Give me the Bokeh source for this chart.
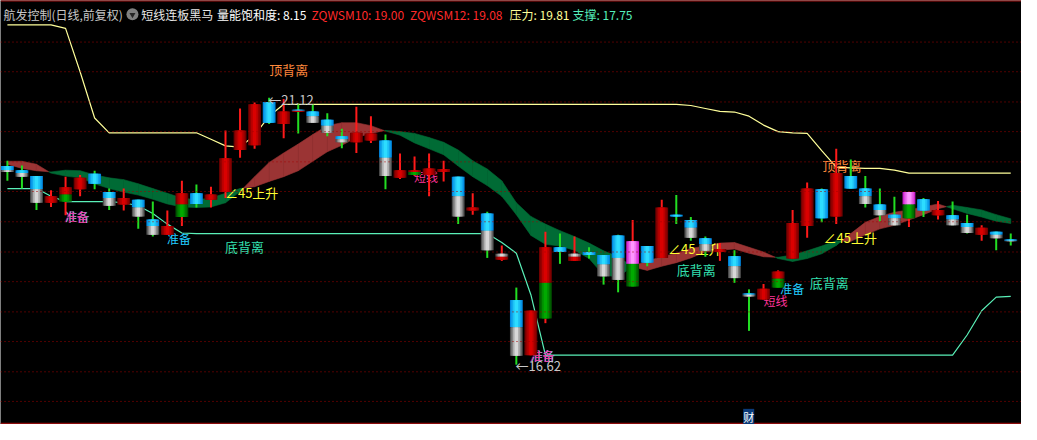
from bokeh.plotting import figure
from bokeh.models import Range1d, Span, Label
from bokeh.core.properties import value
from bokeh.embed import file_html
from bokeh.resources import INLINE

# ---------------- data ----------------
kind = ["BG", "BG", "BG", "R", "RG", "R", "B", "BG", "R", "BG",
        "BG", "R", "RG", "B", "R", "R", "R", "R", "B", "R",
        "BR", "BG", "BG", "BG", "R", "R", "BG", "R", "RG", "R",
        "R", "BG", "R", "BG", "GR", "BG", "R", "RG", "B", "GR",
        "B", "BG", "BG", "MG", "B", "R", "B", "BG", "BG", "R",
        "BG", "BG", "R", "RG", "R", "R", "B", "R", "B", "BG",
        "BG", "BG", "MG", "B", "R", "BG", "BG", "R", "BG", "BG"]

body_top = [19.97, 19.90, 19.80, 19.46, 19.61, 19.77, 19.84, 19.53, 19.43, 19.40,
            19.07, 18.96, 19.51, 19.51, 19.49, 20.10, 20.57, 21.01, 21.05, 20.89,
            20.92, 20.89, 20.75, 20.47, 20.53, 20.52, 20.40, 19.90, 19.90, 19.93,
            19.92, 19.79, 19.27, 19.17, 18.49, 17.71, 17.53, 18.60, 18.60, 18.49,
            18.52, 18.47, 18.80, 18.70, 18.62, 19.27, 19.15, 19.06, 18.75, 18.57,
            18.45, 17.82, 17.90, 18.19, 19.01, 19.59, 19.58, 19.85, 19.80, 19.59,
            19.32, 19.15, 19.53, 19.41, 19.23, 19.14, 19.01, 18.93, 18.86, 18.73]

body_split = [19.90, 19.85, 19.58, 19.35, 19.49, 19.58, 19.67, 19.43, 19.32, 19.27,
              18.96, 18.81, 19.32, 19.33, 19.40, 19.53, 20.24, 20.32, 20.70, 20.68,
              20.90, 20.81, 20.65, 20.42, 20.37, 20.40, 20.11, 19.77, 19.87, 19.82,
              19.87, 19.46, 19.22, 18.88, 18.44, 17.25, 16.78, 18.00, 18.52, 18.44,
              18.47, 18.31, 18.42, 18.32, 18.34, 18.42, 19.12, 18.93, 18.65, 18.52,
              18.28, 17.80, 17.72, 18.07, 18.41, 18.96, 19.09, 19.12, 19.59, 19.46,
              19.23, 19.09, 19.32, 19.22, 19.14, 19.07, 18.94, 18.81, 18.81, 18.71]

body_bottom = [19.87, 19.79, 19.35, 19.35, 19.37, 19.58, 19.67, 19.30, 19.32, 19.12,
               18.81, 18.81, 19.11, 19.33, 19.40, 19.53, 20.24, 20.32, 20.70, 20.68,
               20.88, 20.70, 20.53, 20.37, 20.37, 20.40, 19.80, 19.77, 19.82, 19.82,
               19.87, 19.12, 19.22, 18.55, 18.39, 16.77, 16.78, 17.40, 18.52, 18.37,
               18.47, 18.11, 18.05, 17.94, 18.34, 18.42, 19.12, 18.76, 18.54, 18.52,
               18.08, 17.77, 17.72, 17.92, 18.41, 18.96, 19.09, 19.12, 19.59, 19.33,
               19.14, 18.97, 19.09, 19.22, 19.14, 18.97, 18.84, 18.81, 18.75, 18.70]

high = [20.06, 19.98, 19.80, 19.56, 19.79, 19.82, 19.89, 19.59, 19.59, 19.40,
        19.37, 19.22, 19.72, 19.66, 19.62, 20.57, 20.94, 21.04, 21.12, 21.10,
        21.02, 21.01, 20.86, 20.60, 20.97, 20.81, 20.50, 20.18, 20.13, 20.18,
        20.06, 19.79, 19.51, 19.20, 18.63, 17.92, 17.53, 18.86, 18.83, 18.78,
        18.60, 18.47, 18.81, 19.06, 18.62, 19.40, 19.48, 19.11, 18.78, 18.67,
        18.55, 17.89, 17.98, 18.21, 19.23, 19.69, 19.59, 20.26, 20.08, 19.80,
        19.59, 19.45, 19.53, 19.43, 19.38, 19.37, 19.15, 18.97, 18.86, 18.83]

low = [19.72, 19.59, 19.23, 19.28, 19.14, 19.46, 19.58, 19.23, 19.22, 18.91,
       18.78, 18.81, 18.96, 19.27, 19.27, 19.43, 20.11, 20.26, 20.68, 20.44,
       20.52, 20.70, 20.47, 20.27, 20.19, 20.36, 19.58, 19.75, 19.80, 19.46,
       19.71, 18.99, 19.15, 18.42, 18.37, 16.62, 16.78, 17.32, 18.32, 18.37,
       18.41, 17.97, 17.84, 17.94, 18.28, 18.42, 18.99, 18.71, 18.44, 18.37,
       18.00, 17.19, 17.72, 17.92, 18.41, 18.76, 19.02, 18.99, 19.59, 19.27,
       19.04, 18.97, 18.94, 19.11, 19.07, 18.97, 18.83, 18.71, 18.55, 18.63]

zqwsm10 = [20.05, 20.05, 20.00, 19.85, 19.80, 19.77, 19.67, 19.59, 19.53, 19.48,
           19.41, 19.33, 19.28, 19.27, 19.28, 19.35, 19.54, 19.79, 20.03, 20.19,
           20.34, 20.50, 20.65, 20.70, 20.70, 20.65, 20.56, 20.49, 20.36, 20.26,
           20.16, 19.97, 19.79, 19.64, 19.46, 19.15, 18.80, 18.65, 18.62, 18.55,
           18.41, 18.13, 18.10, 18.28, 18.37, 18.44, 18.50, 18.58, 18.62, 18.67,
           18.68, 18.60, 18.52, 18.41, 18.36, 18.41, 18.49, 18.63, 18.83, 19.02,
           19.12, 19.19, 19.23, 19.28, 19.33, 19.25, 19.17, 19.11, 19.04, 19.00]

zqwsm12 = [20.00, 19.93, 19.89, 19.87, 19.90, 19.89, 19.82, 19.77, 19.74, 19.67,
           19.59, 19.51, 19.43, 19.40, 19.43, 19.51, 19.59, 19.62, 19.71, 19.79,
           19.89, 20.05, 20.21, 20.32, 20.45, 20.52, 20.57, 20.55, 20.52, 20.45,
           20.37, 20.24, 20.06, 19.92, 19.72, 19.35, 19.12, 18.99, 18.88, 18.78,
           18.67, 18.54, 18.44, 18.27, 18.21, 18.28, 18.34, 18.42, 18.52, 18.55,
           18.57, 18.50, 18.44, 18.43, 18.47, 18.54, 18.62, 18.71, 18.70, 18.81,
           18.91, 18.97, 19.06, 19.15, 19.25, 19.31, 19.27, 19.23, 19.15, 19.08]

pressure = [22.35, 22.35, 22.35, 22.35, 22.29, 21.56, 20.78, 20.53, 20.53, 20.53,
            20.53, 20.53, 20.53, 20.53, 20.42, 20.31, 20.29, 20.49, 20.81, 21.01,
            21.01, 21.01, 21.01, 21.01, 21.01, 21.01, 21.01, 21.01, 21.01, 21.01,
            21.01, 21.01, 21.01, 21.01, 21.01, 21.01, 21.01, 21.01, 21.01, 21.01,
            21.01, 21.01, 21.01, 21.01, 21.01, 21.01, 21.01, 20.99, 20.94, 20.89,
            20.88, 20.81, 20.66, 20.55, 20.53, 20.52, 20.23, 19.95, 19.94, 19.93,
            19.93, 19.90, 19.85, 19.85, 19.85, 19.85, 19.85, 19.85, 19.85, 19.85]

support = [19.59, 19.59, 19.59, 19.46, 19.37, 19.37, 19.37, 19.37, 19.35, 19.30,
           19.17, 18.99, 18.84, 18.83, 18.83, 18.83, 18.83, 18.83, 18.83, 18.83,
           18.83, 18.83, 18.83, 18.83, 18.83, 18.83, 18.83, 18.83, 18.83, 18.83,
           18.83, 18.83, 18.83, 18.83, 18.68, 18.50, 17.80, 16.78, 16.78, 16.78,
           16.78, 16.78, 16.78, 16.78, 16.78, 16.78, 16.78, 16.78, 16.78, 16.78,
           16.78, 16.78, 16.78, 16.78, 16.78, 16.78, 16.78, 16.78, 16.78, 16.78,
           16.78, 16.78, 16.78, 16.78, 16.78, 16.78, 17.12, 17.53, 17.76, 17.77]

grid_levels = [22.06, 21.56, 21.05, 20.55, 20.04, 19.54, 19.03, 18.52, 18.02,
               17.51, 17.01, 16.50, 16.00]

header_items = [("航发控制(日线,前复权)", "#c8c8c8"), ("短线连板黑马", "#e8e8e8"),
                ("量能饱和度: 8.15", "#ffffff"), ("ZQWSM10: 19.00", "#ff2a2a"),
                ("ZQWSM12: 19.08", "#ff2a2a"), ("压力: 19.81", "#ffff99"),
                ("支撑: 17.75", "#55eebb")]

# ---------------- styles ----------------
FONT = "Noto Sans CJK SC"
n = len(kind)
xi = list(range(n))

SHADE = {"red": ((112, 0, 0), (218, 0, 0)),
         "blue": ((0, 135, 225), (45, 220, 255)),
         "gray": ((78, 78, 78), (215, 215, 215)),
         "green": ((0, 78, 0), (0, 170, 0)),
         "magenta": ((205, 30, 205), (255, 150, 255))}
KIND = {"R": ("red", "red"), "B": ("blue", "blue"), "BG": ("blue", "gray"),
        "RG": ("red", "green"), "MG": ("magenta", "green"),
        "GR": ("gray", "red"), "BR": ("blue", "red")}


def shade(name, t):
    e, c = SHADE[name]
    return "#%02x%02x%02x" % tuple(int(round(e[k] + (c[k] - e[k]) * t)) for k in range(3))


p = figure(width=1021, height=424,
           x_range=Range1d(-0.474, 69.74), y_range=Range1d(15.611, 22.761),
           x_axis_type=None, y_axis_type=None, toolbar_location=None,
           output_backend="svg", background_fill_color="black",
           border_fill_color="black", outline_line_color=None, min_border=0)

# grid
for g in grid_levels:
    p.add_layout(Span(location=g, dimension="width", line_color="#a00000",
                      line_dash="1 3", line_width=1))
p.add_layout(Span(location=22.755, dimension="width", line_color="#a01010", line_width=1.5))
p.add_layout(Span(location=15.628, dimension="width", line_color="#8c0c0c", line_width=1.5))

# band between ZQWSM10 and ZQWSM12
BAND_RED, BAND_GREEN = "#9b3434", "#006b35"
bx, by, bc = [], [], []
for i in range(n - 1):
    a0 = zqwsm10[i] - zqwsm12[i]
    a1 = zqwsm10[i + 1] - zqwsm12[i + 1]
    if a0 * a1 < 0:
        t = a0 / (a0 - a1)
        xc = i + t
        yc = zqwsm10[i] + t * (zqwsm10[i + 1] - zqwsm10[i])
        bx.append([i, xc, i]); by.append([zqwsm10[i], yc, zqwsm12[i]])
        bc.append(BAND_RED if a0 > 0 else BAND_GREEN)
        bx.append([xc, i + 1, i + 1]); by.append([yc, zqwsm10[i + 1], zqwsm12[i + 1]])
        bc.append(BAND_RED if a1 > 0 else BAND_GREEN)
    else:
        bx.append([i, i + 1, i + 1, i])
        by.append([zqwsm10[i], zqwsm10[i + 1], zqwsm12[i + 1], zqwsm12[i]])
        bc.append(BAND_RED if (a0 + a1) > 0 else BAND_GREEN)
p.patches(bx, by, fill_color=bc, line_color=bc, line_width=0.6)

# pressure / support lines
p.line(xi, pressure, line_color="#ffff9a", line_width=1.2)
p.line(xi, support, line_color="#5af0b8", line_width=1.2)


def texts(xs, ys, txt, color, size="12px", align="left"):
    p.text(x=xs, y=ys, text=txt, text_color=color, text_font=value(FONT),
           text_font_size=size, text_align=align, text_baseline="middle")


# labels under the candles
texts([18.01, 56.06], [21.59, 19.98], ["顶背离", "顶背离"], "#ff8a3d", "13px")
texts([14.96, 46.04, 55.18], [18.62, 18.23, 18.00], ["底背离"] * 3, "#33e0b0", "13px")
texts([14.96, 45.43, 56.13], [19.53, 18.58, 18.76], ["∠45上升"] * 3, "#ffff33", "13px")
texts([4.0, 36.02, 10.97, 53.15], [19.12, 16.78, 18.75, 17.90], ["准备"] * 4, "#22ccff")
texts([3.93, 35.95], [19.12, 16.78], ["准备"] * 2, "#ff3399")
texts([27.96, 52.0], [19.79, 17.71], ["短线", "短线"], "#ff3399")

# wicks
wick_col = ["#22dd22" if k[0] == "B" else "#ff1a1a" for k in kind]
p.segment(x0=xi, y0=high, x1=xi, y1=low, line_color=wick_col, line_width=2)

# bodies with a cylinder-like shading
layers = [(0.44, 0.0), (0.35, 0.35), (0.24, 0.7), (0.12, 1.0)]
for hw, t in layers:
    L, R, T, B, C = [], [], [], [], []
    for i in range(n):
        up, lo = KIND[kind[i]]
        if body_top[i] > body_split[i]:
            L.append(i - hw); R.append(i + hw); T.append(body_top[i]); B.append(body_split[i])
            C.append(shade(up, t))
        if body_split[i] > body_bottom[i]:
            L.append(i - hw); R.append(i + hw); T.append(body_split[i]); B.append(body_bottom[i])
            C.append(shade(lo, t))
    p.quad(left=L, right=R, top=T, bottom=B, fill_color=C, line_color=None)

# extreme markers
texts([17.94, 34.94], [21.09, 16.60], ["←21.12", "←16.62"], "#c8c8c8", "13px")

# "财" badge
p.add_layout(Label(x=50.98, y=15.74, text="财", text_color="white", text_font=FONT,
                   text_font_size="11px", text_align="center", text_baseline="middle",
                   background_fill_color="#0b3a78"))

# header
hx = [-0.27, 9.21, 14.42, 20.92, 27.69, 34.53, 38.86]
for (txt, col), x0 in zip(header_items, hx):
    p.add_layout(Label(x=x0, y=22.53, text=txt, text_color=col, text_font=FONT,
                       text_font_size="12px", text_align="left", text_baseline="middle"))
p.scatter(x=[8.6], y=[22.53], size=12, marker="circle", fill_color="#808080", line_color=None)
p.scatter(x=[8.6], y=[22.52], size=6, marker="inverted_triangle", fill_color="#262626", line_color=None)

open("out.html", "w").write(file_html(p, INLINE))
